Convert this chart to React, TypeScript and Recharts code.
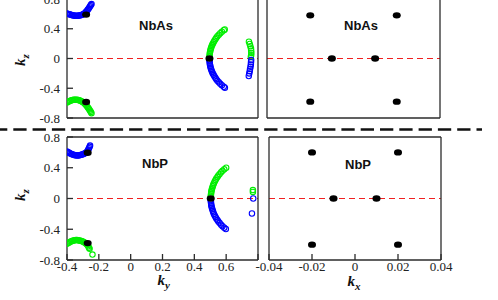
import React from "react";
import { ScatterChart, Scatter, XAxis, YAxis, ReferenceLine } from "recharts";

type Pair = [number, number];

// axis ticks
const kyMajor = [-0.4, -0.2, 0, 0.2, 0.4, 0.6, 0.8];
const kyMinor = [-0.4, -0.3, -0.2, -0.1, 0, 0.1, 0.2, 0.3, 0.4, 0.5, 0.6, 0.7, 0.8];
const kxMajor = [-0.04, -0.02, 0, 0.02, 0.04];
const kxMinor = [-0.04, -0.03, -0.02, -0.01, 0, 0.01, 0.02, 0.03, 0.04];
const kzMajor = [-0.8, -0.4, 0, 0.4, 0.8];
const kzMinor = [-0.8, -0.6, -0.4, -0.2, 0, 0.2, 0.4, 0.6, 0.8];

// NbAs, (ky, kz) plane
const nbAsBlueTop: Pair[] = [
  [-0.4, 0.605], [-0.393, 0.6], [-0.386, 0.595], [-0.379, 0.59], [-0.372, 0.585],
  [-0.365, 0.581], [-0.358, 0.578], [-0.351, 0.576], [-0.344, 0.575], [-0.337, 0.575],
  [-0.33, 0.576], [-0.323, 0.578], [-0.316, 0.581], [-0.309, 0.585], [-0.302, 0.59],
  [-0.296, 0.597], [-0.29, 0.605], [-0.285, 0.615], [-0.28, 0.627], [-0.275, 0.64],
  [-0.27, 0.655], [-0.265, 0.67], [-0.26, 0.686], [-0.255, 0.702], [-0.25, 0.718],
  [-0.246, 0.732],
];
const nbAsGreenBottom: Pair[] = [
  [-0.4, -0.59], [-0.393, -0.582], [-0.386, -0.574], [-0.379, -0.567], [-0.372, -0.561],
  [-0.365, -0.557], [-0.358, -0.554], [-0.351, -0.553], [-0.344, -0.553], [-0.337, -0.555],
  [-0.33, -0.558], [-0.323, -0.563], [-0.316, -0.569], [-0.309, -0.576], [-0.302, -0.584],
  [-0.296, -0.593], [-0.29, -0.603], [-0.285, -0.614], [-0.28, -0.626], [-0.275, -0.64],
  [-0.27, -0.655], [-0.265, -0.67], [-0.26, -0.686], [-0.255, -0.702], [-0.25, -0.718],
  [-0.246, -0.735],
];
const nbAsGreenArc: Pair[] = [
  [0.495, 0.02], [0.496, 0.04], [0.497, 0.06], [0.498, 0.08], [0.5, 0.1],
  [0.502, 0.12], [0.505, 0.14], [0.508, 0.16], [0.512, 0.18], [0.516, 0.2],
  [0.521, 0.22], [0.526, 0.24], [0.532, 0.26], [0.538, 0.28], [0.545, 0.3],
  [0.554, 0.32], [0.563, 0.34], [0.573, 0.36], [0.585, 0.38], [0.591, 0.39],
];
const nbAsBlueArc: Pair[] = [
  [0.495, -0.02], [0.496, -0.04], [0.497, -0.06], [0.498, -0.08], [0.5, -0.1],
  [0.502, -0.12], [0.505, -0.14], [0.508, -0.16], [0.512, -0.18], [0.516, -0.2],
  [0.521, -0.22], [0.526, -0.24], [0.532, -0.26], [0.538, -0.28], [0.545, -0.3],
  [0.554, -0.32], [0.563, -0.34], [0.573, -0.36], [0.585, -0.38], [0.592, -0.392],
];
const nbAsGreenEdge: Pair[] = [
  [0.743, 0.225], [0.748, 0.195], [0.752, 0.165], [0.756, 0.135],
  [0.757, 0.105], [0.758, 0.075], [0.757, 0.045], [0.755, 0.02],
];
const nbAsBlueEdge: Pair[] = [
  [0.757, -0.02], [0.756, -0.05], [0.755, -0.08], [0.753, -0.11],
  [0.75, -0.14], [0.748, -0.17], [0.745, -0.2], [0.742, -0.235],
];
const nbAsNodesKy: Pair[] = [[-0.28, 0.59], [-0.28, -0.585], [0.495, 0]];

// NbAs, (kx, kz) plane
const nbAsNodesKx: Pair[] = [
  [-0.02, 0.58], [0.02, 0.58], [-0.01, 0], [0.01, 0], [-0.02, -0.58], [0.02, -0.58],
];

// NbP, (ky, kz) plane
const nbPBlueTop: Pair[] = [
  [-0.4, 0.61], [-0.393, 0.602], [-0.386, 0.594], [-0.379, 0.586], [-0.372, 0.579],
  [-0.365, 0.573], [-0.358, 0.568], [-0.351, 0.564], [-0.344, 0.561], [-0.337, 0.56],
  [-0.33, 0.56], [-0.323, 0.562], [-0.316, 0.565], [-0.309, 0.569], [-0.302, 0.574],
  [-0.295, 0.58], [-0.288, 0.587], [-0.281, 0.595], [-0.275, 0.605], [-0.27, 0.62],
  [-0.266, 0.637], [-0.262, 0.655], [-0.258, 0.672], [-0.255, 0.688],
];
const nbPGreenBottom: Pair[] = [
  [-0.4, -0.59], [-0.393, -0.58], [-0.386, -0.571], [-0.379, -0.563], [-0.372, -0.556],
  [-0.365, -0.55], [-0.358, -0.546], [-0.351, -0.543], [-0.344, -0.541], [-0.337, -0.541],
  [-0.33, -0.542], [-0.323, -0.545], [-0.316, -0.549], [-0.309, -0.554], [-0.302, -0.56],
  [-0.295, -0.567], [-0.288, -0.575], [-0.281, -0.584], [-0.275, -0.594], [-0.27, -0.607],
  [-0.266, -0.622], [-0.262, -0.64], [-0.258, -0.655], [-0.24, -0.73],
];
const nbPGreenArc: Pair[] = [
  [0.503, 0.02], [0.504, 0.04], [0.505, 0.06], [0.506, 0.08], [0.508, 0.1],
  [0.51, 0.12], [0.513, 0.14], [0.516, 0.16], [0.519, 0.18], [0.523, 0.2],
  [0.528, 0.22], [0.533, 0.24], [0.538, 0.26], [0.545, 0.28], [0.551, 0.3],
  [0.559, 0.32], [0.568, 0.34], [0.577, 0.36], [0.588, 0.38], [0.6, 0.4],
];
const nbPBlueArc: Pair[] = [
  [0.503, -0.02], [0.504, -0.04], [0.505, -0.06], [0.506, -0.08], [0.508, -0.1],
  [0.51, -0.12], [0.513, -0.14], [0.516, -0.16], [0.519, -0.18], [0.523, -0.2],
  [0.528, -0.22], [0.533, -0.24], [0.538, -0.26], [0.545, -0.28], [0.551, -0.3],
  [0.559, -0.32], [0.568, -0.34], [0.577, -0.36], [0.588, -0.38], [0.598, -0.398],
];
const nbPGreenEdge: Pair[] = [[0.768, 0.11], [0.768, 0.085]];
const nbPBlueEdge: Pair[] = [[0.77, 0], [0.762, -0.195]];
const nbPNodesKy: Pair[] = [[-0.27, 0.595], [-0.27, -0.58], [0.503, 0]];

// NbP, (kx, kz) plane
const nbPNodesKx: Pair[] = [
  [-0.02, 0.6], [0.02, 0.6], [-0.01, 0], [0.01, 0], [-0.02, -0.6], [0.02, -0.6],
];

const BLUE = "#0000ff";
const GREEN = "#00ee00";
const AXIS = "#2b2b2b";
const SERIF = "'Liberation Serif', 'Times New Roman', serif";
const SANS = "'Liberation Sans', Arial, sans-serif";
// outer space round each plot box; every axis below is 1px thick and there are two per side
const PAD = { top: 20, right: 20, bottom: 30, left: 60 };
const M = { top: PAD.top - 2, right: PAD.right - 2, bottom: PAD.bottom - 2, left: PAD.left - 2 };

const ring = (color: string) => (p: any) => (
  <circle cx={p.cx} cy={p.cy} r={2.7} fill="none" stroke={color} strokeWidth={1.1} />
);
const blob = (p: any) => <ellipse cx={p.cx} cy={p.cy} rx={4} ry={3.2} fill="#000" />;

const toXY = (pts: Pair[]) => pts.map(([x, y]) => ({ x, y }));
const tickFont = { fill: "#222", fontSize: 13, fontFamily: SERIF };

interface PanelProps {
  box: [number, number, number, number];
  xDomain: [number, number];
  xMajor: number[];
  xMinor: number[];
  xLabels: boolean;
  yLabels: boolean;
  xFmt?: (v: number) => string;
  blue: Pair[][];
  green: Pair[][];
  nodes: Pair[];
}

function Panel({ box, xDomain, xMajor, xMinor, xLabels, yLabels, xFmt, blue, green, nodes }: PanelProps) {
  const [l, t, r, b] = box;
  return (
    <div style={{ position: "absolute", left: l - PAD.left, top: t - PAD.top }}>
      <ScatterChart width={r - l + PAD.left + PAD.right} height={b - t + PAD.top + PAD.bottom} margin={M}>
        <XAxis xAxisId="b" type="number" dataKey="x" domain={xDomain} allowDataOverflow ticks={xMajor}
          interval={0} height={1} tickSize={-6} tickMargin={8} stroke={AXIS} strokeWidth={1.3}
          tick={xLabels ? tickFont : false} tickFormatter={xFmt} />
        <XAxis xAxisId="bm" type="number" domain={xDomain} allowDataOverflow ticks={xMinor}
          interval={0} height={1} tickSize={-4} stroke={AXIS} axisLine={false} tick={false} />
        <XAxis xAxisId="t" orientation="top" type="number" domain={xDomain} allowDataOverflow ticks={xMajor}
          interval={0} height={1} tickSize={-6} stroke={AXIS} strokeWidth={1.3} tick={false} />
        <XAxis xAxisId="tm" orientation="top" type="number" domain={xDomain} allowDataOverflow ticks={xMinor}
          interval={0} height={1} tickSize={-4} stroke={AXIS} axisLine={false} tick={false} />
        <YAxis yAxisId="l" type="number" dataKey="y" domain={[-0.8, 0.8]} allowDataOverflow ticks={kzMajor}
          interval={0} width={1} tickSize={-6} tickMargin={13} stroke={AXIS} strokeWidth={1.3}
          tick={yLabels ? tickFont : false} />
        <YAxis yAxisId="lm" type="number" domain={[-0.8, 0.8]} allowDataOverflow ticks={kzMinor}
          interval={0} width={1} tickSize={-4} stroke={AXIS} axisLine={false} tick={false} />
        <YAxis yAxisId="r" orientation="right" type="number" domain={[-0.8, 0.8]} allowDataOverflow ticks={kzMajor}
          interval={0} width={1} tickSize={-6} stroke={AXIS} strokeWidth={1.3} tick={false} />
        <YAxis yAxisId="rm" orientation="right" type="number" domain={[-0.8, 0.8]} allowDataOverflow ticks={kzMinor}
          interval={0} width={1} tickSize={-4} stroke={AXIS} axisLine={false} tick={false} />
        <ReferenceLine xAxisId="b" yAxisId="l" y={0} stroke="#f02020" strokeWidth={1.2} strokeDasharray="6 4" />
        {green.map((s, i) => (
          <Scatter key={"g" + i} xAxisId="b" yAxisId="l" data={toXY(s)} shape={ring(GREEN)} isAnimationActive={false} />
        ))}
        {blue.map((s, i) => (
          <Scatter key={"b" + i} xAxisId="b" yAxisId="l" data={toXY(s)} shape={ring(BLUE)} isAnimationActive={false} />
        ))}
        <Scatter xAxisId="b" yAxisId="l" data={toXY(nodes)} shape={blob} isAnimationActive={false} />
      </ScatterChart>
    </div>
  );
}

const kyFmt = (v: number) => (v > 0.7 ? "" : String(v));

export default function App() {
  const axisTitle = { fontFamily: SERIF, fontStyle: "italic", fontWeight: "bold", fontSize: 15, fill: "#111" } as const;
  const panelTitle = { fontFamily: SANS, fontWeight: "bold", fontSize: 13, fill: "#111", textAnchor: "middle" } as const;
  return (
    <div style={{ position: "absolute", left: 0, top: 0, width: 498, height: 300, overflow: "hidden", background: "#fff" }}>
      <Panel box={[67, -1, 258, 118]} xDomain={[-0.4, 0.8]} xMajor={kyMajor} xMinor={kyMinor}
        xLabels={false} yLabels blue={[nbAsBlueTop, nbAsBlueArc, nbAsBlueEdge]}
        green={[nbAsGreenBottom, nbAsGreenArc, nbAsGreenEdge]} nodes={nbAsNodesKy} />
      <Panel box={[267, -1, 440, 118]} xDomain={[-0.04, 0.04]} xMajor={kxMajor} xMinor={kxMinor}
        xLabels={false} yLabels={false} blue={[]} green={[]} nodes={nbAsNodesKx} />
      <Panel box={[67, 137, 258, 260]} xDomain={[-0.4, 0.8]} xMajor={kyMajor} xMinor={kyMinor}
        xLabels yLabels xFmt={kyFmt} blue={[nbPBlueTop, nbPBlueArc, nbPBlueEdge]}
        green={[nbPGreenBottom, nbPGreenArc, nbPGreenEdge]} nodes={nbPNodesKy} />
      <Panel box={[269, 137, 441, 260]} xDomain={[-0.04, 0.04]} xMajor={kxMajor} xMinor={kxMinor}
        xLabels yLabels={false} blue={[]} green={[]} nodes={nbPNodesKx} />
      <svg width={498} height={300} style={{ position: "absolute", left: 0, top: 0, pointerEvents: "none" }}>
        <line x1={-6} y1={129.5} x2={482} y2={129.5} stroke="#111" strokeWidth={2.5} strokeDasharray="13.3 6" />
        <text x={156} y={30} style={panelTitle}>NbAs</text>
        <text x={361} y={30} style={panelTitle}>NbAs</text>
        <text x={155} y={168} style={panelTitle}>NbP</text>
        <text x={358} y={169} style={panelTitle}>NbP</text>
        <text transform="translate(25,60) rotate(-90)" textAnchor="middle" style={axisTitle}>
          k<tspan dy={4} fontSize={11}>z</tspan>
        </text>
        <text transform="translate(25,195) rotate(-90)" textAnchor="middle" style={axisTitle}>
          k<tspan dy={4} fontSize={11}>z</tspan>
        </text>
        <text x={157.5} y={285} style={axisTitle}>
          k<tspan dy={4} fontSize={11}>y</tspan>
        </text>
        <text x={347.5} y={285.5} style={axisTitle}>
          k<tspan dy={4} fontSize={11}>x</tspan>
        </text>
      </svg>
    </div>
  );
}
